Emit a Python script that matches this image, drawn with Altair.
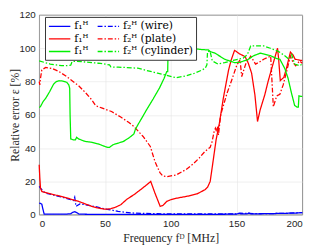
import altair as alt
import pandas as pd

# ---- data ----
w1_x = [0, 1, 2, 2.8, 3.8, 10, 20, 24, 25.5, 27, 28.5, 30, 32, 50, 80, 120, 145, 150, 152, 153.5, 156, 158.5, 159.5, 161, 170, 185, 195, 200]
w1_y = [7, 6.8, 6.3, 3.5, 0.3, 0.3, 0.3, 0.6, 1.4, 1.8, 1.3, 0.5, 0.3, 0.2, 0.2, 0.2, 0.3, 0.4, 0.9, 0.5, 0.5, 0.6, 1.0, 0.5, 0.6, 0.8, 1.0, 1.3]

w2_x = [0, 1, 2, 3, 5, 10, 15, 20, 24, 26, 27, 28, 29, 31, 35, 42, 50, 55, 60, 65, 72, 80, 90, 100, 130, 150, 153, 170, 190, 200]
w2_y = [17, 16, 15, 14, 13, 12, 11, 10, 9, 8.5, 10.5, 5, 5.5, 6.5, 6, 5, 3.5, 2.8, 2, 1.5, 1, 0.8, 0.6, 0.5, 0.5, 0.5, 0.9, 0.6, 0.9, 1.3]

p1_x = [0, 0.5, 1, 2, 3, 5, 10, 20, 30, 40, 45, 50, 54, 58, 62, 67, 72, 77, 81, 84.8, 88, 92, 94, 97, 100, 105, 112, 120, 126, 128, 130, 132, 134.5, 137, 140, 144, 146, 148.5, 150, 152, 156.5, 159, 161.5, 164, 166, 168, 171.5, 174, 176.5, 179, 181.2, 182, 183.3, 186, 188, 191, 193, 194.5, 197, 200]
p1_y = [30, 22, 16, 14, 13.7, 13.3, 12.3, 10.3, 8, 5, 4, 3.3, 3.5, 4.5, 6, 9.5, 12, 15, 17.5, 20, 13, 5, 5.5, 8, 9, 10, 11, 12.5, 15, 16.5, 20, 31, 45, 55, 70, 87, 93, 98.7, 98, 96.8, 95, 91, 85, 72, 56, 63, 72, 80, 87, 94, 100, 94, 80.6, 82.5, 88, 97.7, 96, 93.5, 93, 92.6]

p2_x = [0, 0.5, 1, 2, 5, 10, 15, 20, 25, 30, 35, 40, 43, 48, 55, 62, 68, 72, 79, 84.5, 88, 91.8, 94, 97, 104, 111.7, 117, 121.6, 126, 130, 131.5, 133, 134, 134.8, 135.5, 136.3, 138, 142.8, 146, 150.3, 152.7, 154, 157, 160.8, 164.5, 167, 170.7, 176, 178, 180.6, 183, 185.5, 188, 191, 193, 195, 198, 200]
p2_y = [80, 78, 82, 87, 88.5, 87.8, 86, 83.5, 80.5, 77.5, 73.5, 69, 65.5, 64, 62, 58.7, 55.5, 53, 47, 41, 32, 25.3, 23.2, 22.9, 23.8, 27.2, 30.5, 34, 38, 40.5, 44, 50, 52, 50, 53, 48, 60, 73, 80, 90, 93, 83, 90.5, 95.3, 90.5, 91.5, 93.4, 95.3, 64.8, 71.4, 72.4, 78, 85.7, 95.3, 91.4, 89.5, 92.4, 91]

c1_x = [0, 1, 3, 5, 8, 11, 13, 15, 18, 21, 22.5, 23.2, 23.5, 24, 26, 27.5, 28.5, 30, 35, 40, 45, 50, 52, 53.5, 56, 58, 60, 64, 68, 72, 73, 75, 78, 81.6, 86.6, 91.5, 95, 97, 97.7, 98, 100, 105, 111, 117, 122, 128.6, 130, 133.6, 141, 148.4, 152, 158.3, 163, 168.2, 175.7, 180, 183, 186.8, 189.2, 191.7, 194.2, 196, 197, 197.5, 200]
c1_y = [64.4, 65, 68, 70, 74, 78.5, 80, 80.5, 80.3, 79.5, 78, 76, 60, 45.5, 45, 45, 46.5, 45.5, 44, 43.5, 42.5, 41, 40.5, 40.5, 42, 42.5, 43, 44, 46, 48.5, 51, 54, 58, 63, 69.5, 76.2, 82, 86, 86, 99, 99.3, 99.3, 100.3, 100, 99.3, 99, 98, 97.1, 93.4, 91.4, 91.5, 93, 95.5, 97.1, 95.6, 94, 93.4, 87.7, 82, 73.4, 65.7, 64.6, 64.6, 71.4, 71]

c2_x = [0, 4, 8.4, 13, 17, 20.8, 24, 25, 27, 32, 38, 45, 50, 53.5, 54.5, 60, 66.8, 75, 81.6, 90, 96.5, 103.9, 111.3, 118, 124, 126.2, 127.5, 128, 129.9, 131.6, 136, 141, 148.4, 155, 158.3, 160.8, 165, 170.7, 175.7, 181.8, 185.5, 190, 192, 194.2, 198, 200]
c2_y = [92.4, 91.5, 90.5, 90, 89.6, 89.6, 89.8, 92, 92.2, 92, 91.5, 91, 90.5, 90, 88.8, 88.6, 88.4, 88, 86.7, 85, 83.8, 82.3, 83.4, 85, 87, 88, 90, 98.1, 98.3, 92.4, 90.5, 91.4, 92.9, 94, 96.2, 101.4, 101.4, 101.4, 100, 98.1, 96.2, 93.4, 96.2, 90.5, 89.5, 90.5]

# legend order (filled column by column): f1 entries first, then f2 entries
keys = ["w1", "p1", "c1", "w2", "p2", "c2"]
labels = ["f₁ᴴ", "f₁ᴴ", "f₁ᴴ", "f₂ᴴ (wire)", "f₂ᴴ (plate)", "f₂ᴴ (cylinder)"]
colors = ["#0000ff", "#ff0000", "#00f000", "#0000ff", "#ff0000", "#00f000"]
dashes = [[1, 0], [1, 0], [1, 0], [5, 2, 1.5, 2], [5, 2, 1.5, 2], [5, 2, 1.5, 2]]

series = {"w1": (w1_x, w1_y), "w2": (w2_x, w2_y), "p1": (p1_x, p1_y),
          "p2": (p2_x, p2_y), "c1": (c1_x, c1_y), "c2": (c2_x, c2_y)}
rows = []
for k in ["w1", "w2", "p1", "p2", "c1", "c2"]:
    xs, ys = series[k]
    for i, (a, b) in enumerate(zip(xs, ys)):
        rows.append({"s": k, "x": a, "y": b, "i": i})
df = pd.DataFrame(rows)

label_expr = " : ".join(
    [f"datum.value == '{k}' ? '{l}'" for k, l in zip(keys, labels)]) + " : ''"

legend = alt.Legend(
    title=None, orient="none", legendX=6, legendY=2, columns=2,
    labelExpr=label_expr, symbolType="M-1,0H3", symbolSize=121,
    symbolStrokeWidth=1.4, labelFont="DejaVu Serif", labelFontSize=11,
    labelColor="#000000", fillColor="white", strokeColor="#333333",
    padding=3, rowPadding=1, columnPadding=6, labelOffset=14,
)

chart = alt.Chart(df).mark_line(strokeWidth=1.3).encode(
    x=alt.X("x:Q", scale=alt.Scale(domain=[0, 200], nice=False),
            axis=alt.Axis(values=[0, 50, 100, 150, 200], title="Frequency fᴰ [MHz]",
                          ticks=False, tickSize=0, labelPadding=4,
                          titleY=19, titleBaseline="top")),
    y=alt.Y("y:Q", scale=alt.Scale(domain=[0, 120], nice=False),
            axis=alt.Axis(values=[0, 20, 40, 60, 80, 100, 120], title="Relative error ε [%]",
                          ticks=False, tickSize=0, labelPadding=4,
                          titleX=-18, titleBaseline="bottom")),
    color=alt.Color("s:N", scale=alt.Scale(domain=keys, range=colors), legend=legend),
    strokeDash=alt.StrokeDash("s:N", scale=alt.Scale(domain=keys, range=dashes), legend=legend),
    order="i:Q",
).properties(
    width=270, height=205,
    autosize=alt.AutoSizeParams(type="none"),
    padding={"left": 32, "top": 4, "right": 10, "bottom": 31},
).configure_view(
    stroke="#262626", strokeWidth=0.8
).configure_axis(
    domain=False, grid=True, gridColor="#e3e3e3", gridWidth=0.6,
    labelFont="Liberation Sans", labelFontSize=10, labelColor="#262626",
    titleFont="Liberation Serif", titleFontSize=12, titleFontWeight="normal",
    titleColor="#262626",
)

chart.save("out.html", embed_options={"renderer": "svg", "actions": False})
